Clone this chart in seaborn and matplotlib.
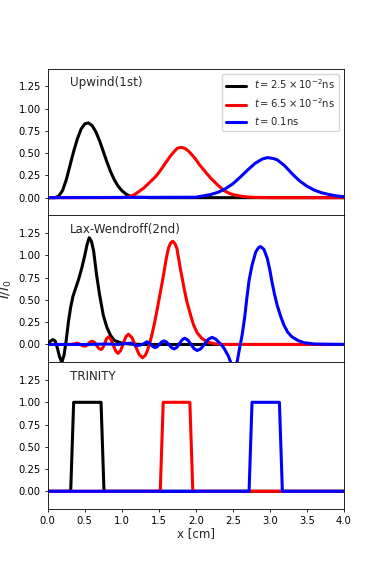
import numpy as np
import pandas as pd
import seaborn as sns
from matplotlib import pyplot as plt

# ---------------------------------------------------------------------------
# datos (x en cm, I/I0)
labels = [r'$t=2.5\times10^{-2}$ns', r'$t=6.5\times10^{-2}$ns', r'$t=0.1$ns']
colors = ['k', 'r', 'b']
schemes = ['Upwind(1st)', 'Lax-Wendroff(2nd)', 'TRINITY']

# Upwind (1er orden)
up_x_t1 = [0.0, 0.1, 0.15, 0.2, 0.25, 0.3, 0.35, 0.4, 0.45, 0.5, 0.55, 0.6, 0.65, 0.7,
           0.75, 0.8, 0.85, 0.9, 0.95, 1.0, 1.05, 1.1, 1.2, 1.4, 4.0]
up_y_t1 = [0.0, 0.0, 0.02, 0.08, 0.2, 0.36, 0.52, 0.66, 0.77, 0.83, 0.84, 0.81, 0.74, 0.64,
           0.52, 0.40, 0.29, 0.20, 0.13, 0.08, 0.045, 0.02, 0.005, 0.0, 0.0]

up_x_t2 = [0.0, 1.0, 1.1, 1.15, 1.2, 1.25, 1.3, 1.35, 1.4, 1.45, 1.5, 1.55, 1.6, 1.65, 1.7,
           1.75, 1.8, 1.85, 1.9, 1.95, 2.0, 2.05, 2.1, 2.15, 2.2, 2.3, 2.38, 2.45, 2.5, 2.6,
           2.7, 2.8, 3.0, 4.0]
up_y_t2 = [0.0, 0.0, 0.01, 0.025, 0.05, 0.08, 0.11, 0.15, 0.19, 0.23, 0.28, 0.34, 0.40, 0.46,
           0.51, 0.555, 0.565, 0.555, 0.525, 0.48, 0.43, 0.37, 0.32, 0.27, 0.22, 0.14, 0.08,
           0.05, 0.035, 0.018, 0.008, 0.003, 0.0, 0.0]

up_x_t3 = [0.0, 2.0, 2.1, 2.2, 2.3, 2.35, 2.4, 2.5, 2.6, 2.7, 2.8, 2.9, 2.97, 3.05, 3.1, 3.2,
           3.3, 3.4, 3.5, 3.6, 3.7, 3.8, 3.9, 4.0]
up_y_t3 = [0.0, 0.005, 0.02, 0.035, 0.06, 0.079, 0.10, 0.155, 0.23, 0.31, 0.385, 0.435, 0.45,
           0.44, 0.425, 0.36, 0.27, 0.19, 0.13, 0.085, 0.055, 0.035, 0.02, 0.01]

# Lax-Wendroff (2do orden)
lw_x_t1 = [0.0, 0.04, 0.07, 0.1, 0.13, 0.16, 0.19, 0.22, 0.25, 0.28, 0.31, 0.34, 0.38, 0.42,
           0.46, 0.5, 0.53, 0.56, 0.59, 0.62, 0.66, 0.7, 0.75, 0.8, 0.85, 0.9, 1.0, 1.1, 1.3, 4.0]
lw_y_t1 = [0.0, 0.04, 0.055, 0.04, -0.04, -0.14, -0.2, -0.12, 0.05, 0.26, 0.42, 0.54, 0.64,
           0.74, 0.86, 1.0, 1.12, 1.2, 1.16, 1.05, 0.78, 0.56, 0.33, 0.19, 0.1, 0.045, 0.015,
           0.005, 0.0, 0.0]

lw_x_t2 = [0.0, 0.3, 0.35, 0.39, 0.4175, 0.445, 0.4725, 0.5, 0.525, 0.55, 0.575, 0.6, 0.63,
           0.66, 0.69, 0.72, 0.745, 0.77, 0.795, 0.82, 0.8525, 0.885, 0.9175, 0.95, 0.985,
           1.02, 1.055, 1.09, 1.1375, 1.185, 1.2325, 1.28, 1.32, 1.35, 1.374, 1.406, 1.44,
           1.473, 1.52, 1.564, 1.6, 1.63, 1.66, 1.69, 1.72, 1.745, 1.79, 1.84, 1.88, 1.93,
           1.97, 2.02, 2.08, 2.15, 2.24, 2.35, 4.0]
lw_y_t2 = [0.0, 0.0, 0.005, 0.015, 0.01, -0.0025, -0.015, -0.02, -0.012, 0.008, 0.029, 0.037,
           0.025, -0.01, -0.045, -0.057, -0.036, 0.015, 0.065, 0.086, 0.059, -0.007, -0.073,
           -0.1, -0.068, 0.008, 0.085, 0.116, 0.077, -0.017, -0.11, -0.15, -0.12, -0.06, 0.0,
           0.105, 0.23, 0.37, 0.58, 0.78, 0.96, 1.08, 1.14, 1.16, 1.13, 1.08, 0.86, 0.64, 0.48,
           0.33, 0.22, 0.13, 0.07, 0.03, 0.01, 0.0, 0.0]

lw_x_t3 = [0.0, 0.5, 0.8, 0.95, 1.05, 1.12, 1.2, 1.28, 1.34, 1.3675, 1.395, 1.4225, 1.45,
           1.48, 1.51, 1.54, 1.57, 1.605, 1.64, 1.675, 1.71, 1.745, 1.78, 1.815, 1.85, 1.8925,
           1.935, 1.9775, 2.02, 2.07, 2.12, 2.17, 2.22, 2.27, 2.33, 2.38, 2.44, 2.49, 2.515,
           2.56, 2.59, 2.626, 2.66, 2.69, 2.72, 2.76, 2.81, 2.85, 2.875, 2.92, 2.965, 3.0,
           3.03, 3.065, 3.1, 3.145, 3.19, 3.24, 3.3, 3.38, 3.46, 3.6, 4.0]
lw_y_t3 = [0.0, 0.0, 0.005, 0.0, 0.01, 0.015, -0.015, 0.0, 0.03, 0.02, -0.0025, -0.025,
           -0.035, -0.024, 0.0025, 0.029, 0.04, 0.027, -0.005, -0.037, -0.05, -0.032, 0.01,
           0.052, 0.07, 0.05, 0.001, -0.048, -0.068, -0.047, 0.006, 0.059, 0.08, 0.06, 0.01,
           -0.04, -0.13, -0.24, -0.26, -0.19, -0.05, 0.105, 0.3, 0.52, 0.72, 0.89, 1.04, 1.09,
           1.10, 1.07, 0.97, 0.84, 0.70, 0.56, 0.44, 0.32, 0.22, 0.14, 0.085, 0.045, 0.02,
           0.005, 0.0]

# TRINITY
tr_x_t1 = [0.0, 0.31, 0.35, 0.72, 0.76, 4.0]
tr_y_t1 = [0.0, 0.0, 1.0, 1.0, 0.0, 0.0]
tr_x_t2 = [0.0, 1.52, 1.56, 1.92, 1.96, 4.0]
tr_y_t2 = [0.0, 0.0, 1.0, 1.0, 0.0, 0.0]
tr_x_t3 = [0.0, 2.72, 2.76, 3.13, 3.17, 4.0]
tr_y_t3 = [0.0, 0.0, 1.0, 1.0, 0.0, 0.0]

#############################################################################
panels = [
    [(up_x_t1, up_y_t1), (up_x_t2, up_y_t2), (up_x_t3, up_y_t3)],
    [(lw_x_t1, lw_y_t1), (lw_x_t2, lw_y_t2), (lw_x_t3, lw_y_t3)],
    [(tr_x_t1, tr_y_t1), (tr_x_t2, tr_y_t2), (tr_x_t3, tr_y_t3)],
]

sns.set_style('ticks')
plt.rcParams.update({
    'font.family': ['DejaVu Sans'],
    'axes.edgecolor': 'k',
    'axes.linewidth': 0.6,
    'xtick.color': 'k',
    'ytick.color': 'k',
    'xtick.labelsize': 7.2,
    'ytick.labelsize': 7.2,
    'xtick.major.size': 2.5,
    'ytick.major.size': 2.5,
    'xtick.major.width': 0.6,
    'ytick.major.width': 0.6,
    'xtick.major.pad': 2.5,
    'ytick.major.pad': 2.5,
})

fig, axes = plt.subplots(3, 1, figsize=(3.82, 5.72), dpi=100, sharex=True)
fig.subplots_adjust(left=0.125, right=0.9, top=0.88, bottom=0.11, hspace=0)

for ax, curves, name in zip(axes, panels, schemes):
    for (xs, ys), c in zip(curves, colors):
        df = pd.DataFrame({'x': xs, 'y': ys})
        sns.lineplot(data=df, x='x', y='y', color=c, linewidth=2.2,
                     estimator=None, sort=False, ax=ax)
    ax.text(0.3, 1.25, name, fontsize=8.6)
    ax.set_xlim(0, 4)
    ax.set_ylim(-0.2, 1.45)
    ax.set_yticks([0.0, 0.25, 0.5, 0.75, 1.0, 1.25])
    ax.set_xlabel('')
    ax.set_ylabel('')

axes[0].tick_params(axis='x', bottom=False, labelbottom=False)
axes[1].tick_params(axis='x', bottom=False, labelbottom=False)
axes[2].set_xticks(np.arange(0, 4.01, 0.5))
axes[2].set_xlabel('x [cm]', fontsize=8.6, labelpad=1)
axes[1].set_ylabel(r'$I/I_0$', fontsize=9.5)
axes[1].yaxis.set_label_coords(-0.115, 0.5)

axes[0].legend(axes[0].lines[:3], labels, loc='upper right', fontsize=7.2)

fig.savefig('out.png', dpi=100)
